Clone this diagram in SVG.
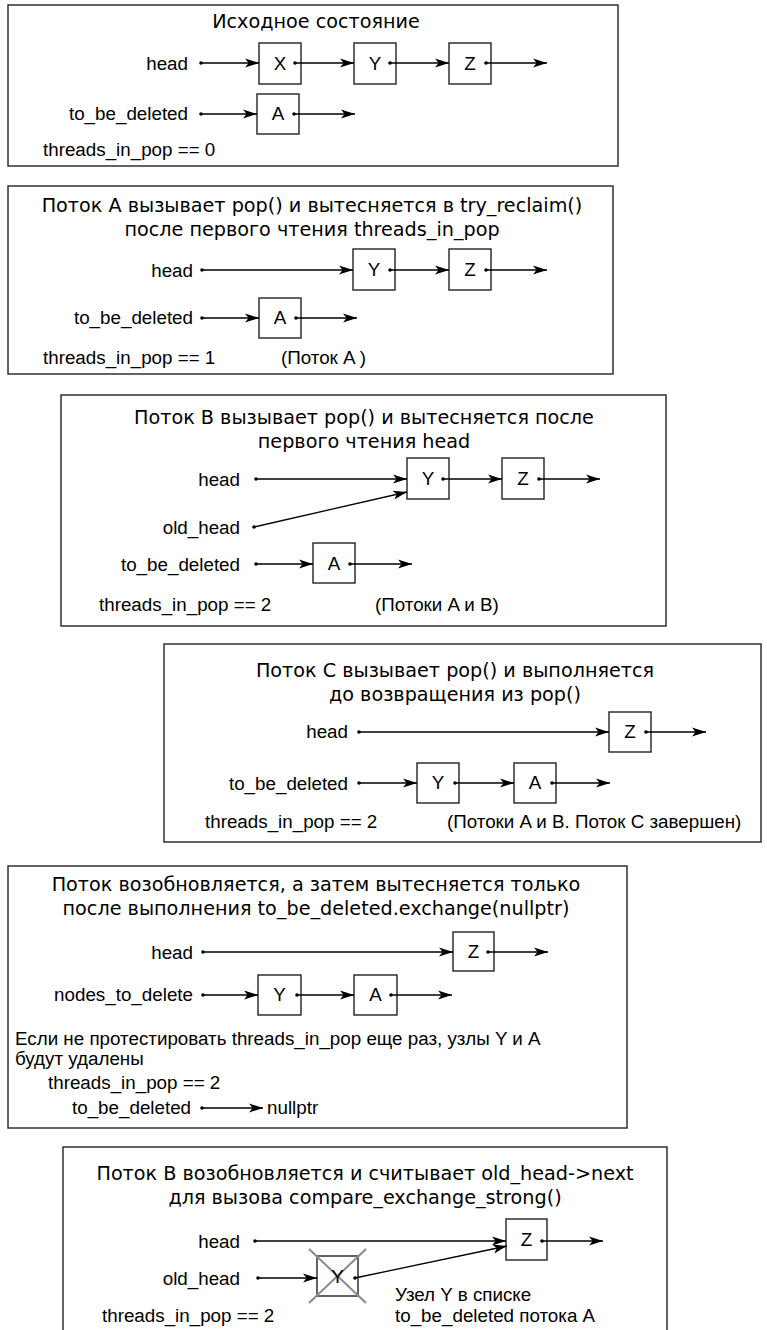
<svg xmlns="http://www.w3.org/2000/svg" width="767" height="1330" viewBox="0 0 767 1330">
  <defs>
    <!-- barbed filled arrowhead; tip sits exactly on the line end -->
    <marker id="arr" markerUnits="userSpaceOnUse" markerWidth="16" markerHeight="12" viewBox="0 -6 16 12" refX="14" refY="0" orient="auto">
      <path d="M0,-4.6 L14,0 L0,4.6 L3.6,0 Z" fill="#000"/>
    </marker>
    <style>
      .frame { fill: none; stroke: #222; stroke-width: 1.4; }
      .box { fill: #fff; stroke: #222; stroke-width: 1.4; }
      .title { font-family: "DejaVu Sans", "Liberation Sans", sans-serif; font-size: 19.2px; text-anchor: middle; fill: #000; }
      .lbl { font-family: "Liberation Sans", Arial, sans-serif; font-size: 18.8px; fill: #000; }
      .end { text-anchor: end; }
      .nm { font-family: "Liberation Sans", Arial, sans-serif; font-size: 18.8px; text-anchor: middle; fill: #000; }
      .link { fill: none; stroke: #000; stroke-width: 1.3; marker-end: url(#arr); }
      .dot { fill: #000; }
      .cross { stroke: #8a8a8a; stroke-width: 2; }
    </style>
  </defs>
  <rect width="767" height="1330" fill="#fff"/>

  <!-- Stage 1: initial state -->
  <g id="stage1">
    <rect class="frame" x="8" y="5" width="610" height="161"/>
    <text class="title" x="316" y="28">Исходное состояние</text>
    <text class="lbl end" x="188" y="70">head</text>
    <text class="lbl end" x="188" y="120">to_be_deleted</text>
    <text class="lbl" x="43" y="156">threads_in_pop == 0</text>
    <g id="s1-X"><rect class="box" x="259" y="43" width="42" height="41"/><text class="nm" x="280" y="70">X</text></g>
    <g id="s1-Y"><rect class="box" x="354" y="43" width="42" height="41"/><text class="nm" x="375" y="70">Y</text></g>
    <g id="s1-Z"><rect class="box" x="449" y="43" width="42" height="41"/><text class="nm" x="470" y="70">Z</text></g>
    <g id="s1-A"><rect class="box" x="257" y="94" width="42" height="40"/><text class="nm" x="278" y="120">A</text></g>
    <g id="s1-links">
      <path class="link" d="M201,63 H259"/><circle class="dot" cx="201" cy="63" r="1.8"/>
      <path class="link" d="M295,63 H354"/><circle class="dot" cx="295" cy="63" r="1.8"/>
      <path class="link" d="M390,63 H449"/><circle class="dot" cx="390" cy="63" r="1.8"/>
      <path class="link" d="M486,63 H547"/><circle class="dot" cx="486" cy="63" r="1.8"/>
      <path class="link" d="M201,114 H257"/><circle class="dot" cx="201" cy="114" r="1.8"/>
      <path class="link" d="M294,114 H355"/><circle class="dot" cx="294" cy="114" r="1.8"/>
    </g>
  </g>

  <!-- Stage 2: thread A inside try_reclaim() -->
  <g id="stage2">
    <rect class="frame" x="8" y="186" width="605" height="188"/>
    <text class="title" x="312" y="212">Поток A вызывает pop() и вытесняется в try_reclaim()</text>
    <text class="title" x="312" y="236">после первого чтения threads_in_pop</text>
    <text class="lbl end" x="193" y="277">head</text>
    <text class="lbl end" x="193" y="324">to_be_deleted</text>
    <text class="lbl" x="43" y="364">threads_in_pop == 1</text>
    <text class="lbl" x="281" y="364">(Поток A )</text>
    <g id="s2-Y"><rect class="box" x="353" y="249" width="42" height="41"/><text class="nm" x="374" y="276">Y</text></g>
    <g id="s2-Z"><rect class="box" x="449" y="249" width="42" height="41"/><text class="nm" x="470" y="276">Z</text></g>
    <g id="s2-A"><rect class="box" x="259" y="298" width="42" height="40"/><text class="nm" x="280" y="324">A</text></g>
    <g id="s2-links">
      <path class="link" d="M202,270 H353"/><circle class="dot" cx="202" cy="270" r="1.8"/>
      <path class="link" d="M390,270 H449"/><circle class="dot" cx="390" cy="270" r="1.8"/>
      <path class="link" d="M486,270 H547"/><circle class="dot" cx="486" cy="270" r="1.8"/>
      <path class="link" d="M202,318 H259"/><circle class="dot" cx="202" cy="318" r="1.8"/>
      <path class="link" d="M296,318 H357"/><circle class="dot" cx="296" cy="318" r="1.8"/>
    </g>
  </g>

  <!-- Stage 3: thread B reads head -->
  <g id="stage3">
    <rect class="frame" x="61" y="395" width="605" height="231"/>
    <text class="title" x="364" y="424">Поток B вызывает pop() и вытесняется после</text>
    <text class="title" x="364" y="448">первого чтения head</text>
    <text class="lbl end" x="240" y="486">head</text>
    <text class="lbl end" x="240" y="534">old_head</text>
    <text class="lbl end" x="240" y="571">to_be_deleted</text>
    <text class="lbl" x="99" y="611">threads_in_pop == 2</text>
    <text class="lbl" x="375" y="611">(Потоки A и B)</text>
    <g id="s3-Y"><rect class="box" x="407" y="458" width="42" height="41"/><text class="nm" x="428" y="485">Y</text></g>
    <g id="s3-Z"><rect class="box" x="502" y="458" width="42" height="41"/><text class="nm" x="523" y="485">Z</text></g>
    <g id="s3-A"><rect class="box" x="313" y="543" width="42" height="40"/><text class="nm" x="334" y="570">A</text></g>
    <g id="s3-links">
      <path class="link" d="M256,479 H407"/><circle class="dot" cx="256" cy="479" r="1.8"/>
      <path class="link" d="M254,527 L407,492"/><circle class="dot" cx="254" cy="527" r="1.8"/>
      <path class="link" d="M443,479 H502"/><circle class="dot" cx="443" cy="479" r="1.8"/>
      <path class="link" d="M539,479 H600"/><circle class="dot" cx="539" cy="479" r="1.8"/>
      <path class="link" d="M256,564 H313"/><circle class="dot" cx="256" cy="564" r="1.8"/>
      <path class="link" d="M350,564 H412"/><circle class="dot" cx="350" cy="564" r="1.8"/>
    </g>
  </g>

  <!-- Stage 4: thread C finishes pop() -->
  <g id="stage4">
    <rect class="frame" x="164" y="644" width="597" height="198"/>
    <text class="title" x="455" y="677">Поток C вызывает pop() и выполняется</text>
    <text class="title" x="455" y="701">до возвращения из pop()</text>
    <text class="lbl end" x="348" y="738">head</text>
    <text class="lbl end" x="348" y="790">to_be_deleted</text>
    <text class="lbl" x="205" y="828">threads_in_pop == 2</text>
    <text class="lbl" x="447" y="828">(Потоки A и B. Поток C завершен)</text>
    <g id="s4-Z"><rect class="box" x="609" y="712" width="42" height="40"/><text class="nm" x="630" y="738">Z</text></g>
    <g id="s4-Y"><rect class="box" x="417" y="763" width="42" height="40"/><text class="nm" x="438" y="789">Y</text></g>
    <g id="s4-A"><rect class="box" x="514" y="763" width="42" height="40"/><text class="nm" x="535" y="789">A</text></g>
    <g id="s4-links">
      <path class="link" d="M359,732 H609"/><circle class="dot" cx="359" cy="732" r="1.8"/>
      <path class="link" d="M646,732 H706"/><circle class="dot" cx="646" cy="732" r="1.8"/>
      <path class="link" d="M359,783 H417"/><circle class="dot" cx="359" cy="783" r="1.8"/>
      <path class="link" d="M455,783 H514"/><circle class="dot" cx="455" cy="783" r="1.8"/>
      <path class="link" d="M552,783 H610"/><circle class="dot" cx="552" cy="783" r="1.8"/>
    </g>
  </g>

  <!-- Stage 5: thread A resumes and swaps out the list -->
  <g id="stage5">
    <rect class="frame" x="8" y="866" width="619" height="262"/>
    <text class="title" x="316" y="891">Поток возобновляется, а затем вытесняется только</text>
    <text class="title" x="316" y="915">после выполнения to_be_deleted.exchange(nullptr)</text>
    <text class="lbl end" x="193" y="959">head</text>
    <text class="lbl end" x="193" y="1001">nodes_to_delete</text>
    <text class="lbl" x="15" y="1045">Если не протестировать threads_in_pop еще раз, узлы Y и A</text>
    <text class="lbl" x="15" y="1065">будут удалены</text>
    <text class="lbl" x="48" y="1089">threads_in_pop == 2</text>
    <text class="lbl" x="72" y="1114">to_be_deleted</text>
    <text class="lbl" x="267" y="1114">nullptr</text>
    <g id="s5-Z"><rect class="box" x="453" y="932" width="41" height="39"/><text class="nm" x="473.5" y="958">Z</text></g>
    <g id="s5-Y"><rect class="box" x="258" y="975" width="43" height="40"/><text class="nm" x="279.5" y="1001">Y</text></g>
    <g id="s5-A"><rect class="box" x="354" y="975" width="43" height="40"/><text class="nm" x="375.5" y="1001">A</text></g>
    <g id="s5-links">
      <path class="link" d="M203,952 H453"/><circle class="dot" cx="203" cy="952" r="1.8"/>
      <path class="link" d="M488,952 H548"/><circle class="dot" cx="488" cy="952" r="1.8"/>
      <path class="link" d="M203,995 H258"/><circle class="dot" cx="203" cy="995" r="1.8"/>
      <path class="link" d="M297,995 H354"/><circle class="dot" cx="297" cy="995" r="1.8"/>
      <path class="link" d="M391,995 H452"/><circle class="dot" cx="391" cy="995" r="1.8"/>
      <path class="link" d="M202,1108 H263"/><circle class="dot" cx="202" cy="1108" r="1.8"/>
    </g>
  </g>

  <!-- Stage 6: thread B resumes with a dangling old_head -->
  <g id="stage6">
    <rect class="frame" x="63" y="1147" width="604" height="200"/>
    <text class="title" x="365" y="1180">Поток B возобновляется и считывает old_head-&gt;next</text>
    <text class="title" x="365" y="1204">для вызова compare_exchange_strong()</text>
    <text class="lbl end" x="240" y="1248">head</text>
    <text class="lbl end" x="240" y="1285">old_head</text>
    <text class="lbl" x="102" y="1322">threads_in_pop == 2</text>
    <text class="lbl" x="395" y="1301">Узел Y в списке</text>
    <text class="lbl" x="395" y="1322">to_be_deleted потока A</text>
    <g id="s6-Z"><rect class="box" x="506" y="1219" width="41" height="41"/><text class="nm" x="526.5" y="1246">Z</text></g>
    <g id="s6-Y">
      <rect class="box" x="317" y="1256" width="41" height="40"/>
      <!-- deleted node: grey cross under the still-readable letter -->
      <line class="cross" x1="309" y1="1249" x2="366" y2="1303"/>
      <line class="cross" x1="366" y1="1249" x2="309" y2="1303"/>
      <text class="nm" x="337.5" y="1283">Y</text>
    </g>
    <g id="s6-links">
      <path class="link" d="M255,1241 H506"/><circle class="dot" cx="255" cy="1241" r="1.8"/>
      <path class="link" d="M258,1278 H317"/><circle class="dot" cx="258" cy="1278" r="1.8"/>
      <path class="link" d="M355,1278 L507,1246"/><circle class="dot" cx="355" cy="1278" r="1.8"/>
      <path class="link" d="M542,1241 H603"/><circle class="dot" cx="542" cy="1241" r="1.8"/>
    </g>
  </g>
</svg>
